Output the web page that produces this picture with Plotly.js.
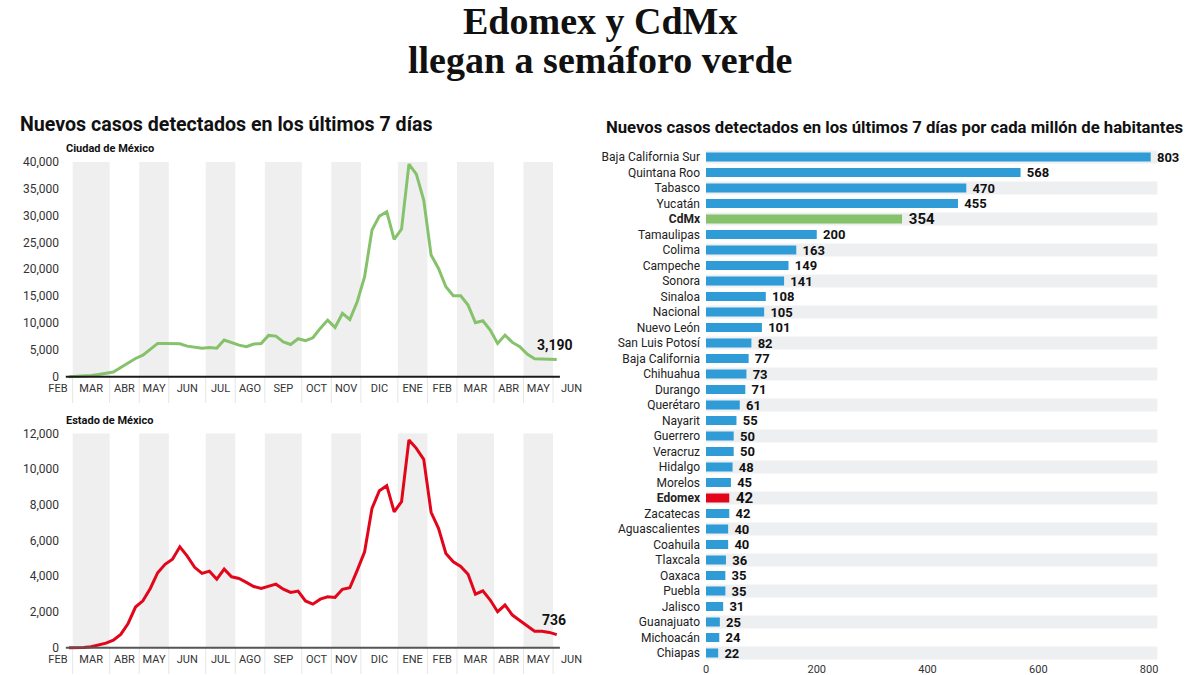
<!DOCTYPE html>
<html><head><meta charset="utf-8">
<script src="https://cdn.plot.ly/plotly-3.0.1.min.js"></script>
<style>html,body{margin:0;padding:0;background:#fff}#chart{width:1200px;height:675px}</style>
</head><body><div id="chart"></div>
<script>
// ---------- DATA ----------
const firstWeek = '2020-02-25';           // first weekly point (Tuesday)
const cdmxCases = [0,50,120,250,430,620,870,1740,2600,3400,4030,5200,6200,6200,6140,6140,5700,5460,5330,5460,5330,6820,6320,5890,5580,6080,6200,7690,7560,6500,6000,7070,6700,7250,8990,10540,9180,11780,10660,13950,18600,27280,29880,30690,25540,27470,39560,37700,32860,22630,20150,16740,15070,15070,13330,10040,10420,8680,6200,7750,6390,5580,4220,3350,3300,3300,3190];
const edomexCases = [0,0,20,56,150,260,430,750,1360,2280,2630,3320,4200,4670,4950,5650,5130,4500,4160,4290,3840,4400,3970,3880,3660,3430,3320,3450,3560,3280,3100,3170,2620,2440,2720,2850,2820,3270,3360,4330,5370,7800,8790,9070,7610,8170,11630,11160,10540,7580,6680,5280,4810,4550,4110,3000,3190,2670,2020,2390,1830,1530,1210,930,930,860,736];
const monthLabels = ['ENE','FEB','MAR','ABR','MAY','JUN','JUL','AGO','SEP','OCT','NOV','DIC'];
const states = ['Baja California Sur','Quintana Roo','Tabasco','Yucatán','CdMx','Tamaulipas','Colima','Campeche','Sonora','Sinaloa','Nacional','Nuevo León','San Luis Potosí','Baja California','Chihuahua','Durango','Querétaro','Nayarit','Guerrero','Veracruz','Hidalgo','Morelos','Edomex','Zacatecas','Aguascalientes','Coahuila','Tlaxcala','Oaxaca','Puebla','Jalisco','Guanajuato','Michoacán','Chiapas'];
const casesPerMillion = [803,568,470,455,354,200,163,149,141,108,105,101,82,77,73,71,61,55,50,50,48,45,42,42,40,40,36,35,35,31,25,24,22];

// ---------- HELPERS ----------
const DAY = 86400000;
const fmt = ms => new Date(ms).toISOString().slice(0,19).replace('T',' ');
const t0 = Date.parse(firstWeek + 'T00:00:00Z');
const weekDates = cdmxCases.map((_, i) => fmt(t0 + i*7*DAY));

// calendar of weekly (Tuesday) slots grouped by month, Feb 2020 – Jun 2021
const calStart = Date.UTC(2020,1,4), calEnd = Date.UTC(2021,5,29);
const groups = [];
for (let t = calStart; t <= calEnd; t += 7*DAY) {
  const d = new Date(t), key = d.getUTCFullYear()*12 + d.getUTCMonth();
  if (!groups.length || groups[groups.length-1].key !== key) groups.push({key, m: d.getUTCMonth(), first: t, last: t});
  else groups[groups.length-1].last = t;
}
const tickVals = groups.map(g => fmt((g.first + g.last)/2));
const tickText = groups.map(g => monthLabels[g.m]);

// pixel geometry helpers (page is 1200x675, margins 0)
const W = 1200, H = 675;
const px = x => x / W, py = y => 1 - y / H;
const msPerPx = 7*DAY / 7.39;
const xRange = [fmt(t0 - (69-45)*msPerPx), fmt(t0 + (580-69)*msPerPx)];

const FONT = "Roboto, 'Open Sans', sans-serif";
const GREEN = '#86c26b', RED = '#e3061b', BLUE = '#2f9bd7', BAND = '#efefef';

const shapes = [];
function monthBands(xref, yref, top, axisPaperY, axisColor) {
  groups.forEach((g, i) => {
    const x0 = fmt(g.first - 3.5*DAY), x1 = fmt(g.last + 3.5*DAY);
    if (i % 2 === 1 && i < groups.length - 1) {
      shapes.push({type:'rect', xref, yref, x0, x1, y0:0, y1:top, fillcolor:BAND, line:{width:0}, layer:'below'});
    }
    if (i > 0) {
      shapes.push({type:'line', xref, yref:'paper', x0, x1:x0, y0:axisPaperY, y1:axisPaperY - 26/H, line:{color:'#e6e6e6', width:1}, layer:'below'});
    }
  });
  shapes.push({type:'line', xref, yref, x0: fmt(t0 - 3*DAY), x1: fmt(t0 + (cdmxCases.length-1)*7*DAY + 3*DAY), y0:0, y1:0, line:{color:axisColor, width:2}});
}
monthBands('x', 'y', 40000, py(377), '#1a1a1a');
monthBands('x2', 'y2', 12000, py(648), '#555');

// bar-row background bands
states.forEach((s, i) => {
  if (i % 2 === 0) shapes.push({type:'rect', xref:'x3', yref:'y3', x0:0, x1:815, y0:i-0.42, y1:i+0.42, fillcolor:'#eeeff1', line:{width:0}, layer:'below'});
});

const isKey = s => s === 'CdMx' || s === 'Edomex';
const barColors = states.map(s => s === 'CdMx' ? GREEN : s === 'Edomex' ? RED : BLUE);
const catText = states.map(s => isKey(s) ? '<b>' + s + '</b>' : s);

const traces = [
  {type:'scatter', mode:'lines', x: weekDates, y: cdmxCases, xaxis:'x', yaxis:'y', line:{color:GREEN, width:3}, hoverinfo:'skip'},
  {type:'scatter', mode:'lines', x: weekDates, y: edomexCases, xaxis:'x2', yaxis:'y2', line:{color:RED, width:3}, hoverinfo:'skip'},
  {type:'bar', orientation:'h', y: states, x: casesPerMillion, xaxis:'x3', yaxis:'y3',
   marker:{color: barColors}, width:0.58,
   text: casesPerMillion.map(v => '\u00a0<b>' + v + '</b>'), textposition:'outside', cliponaxis:false, constraintext:'none',
   textfont:{family:FONT, size: states.map(s => isKey(s) ? 15 : 13), color:'#111'}, hoverinfo:'skip'}
];

const xLineAxis = (anchor) => ({
  type:'date', domain:[px(45), px(580)], range:xRange, anchor,
  tickvals: tickVals, ticktext: tickText, ticks:'', showgrid:false, zeroline:false, showline:false,
  tickfont:{family:FONT, size:11, color:'#333'}, tickangle:0
});

const lastIdx = cdmxCases.length - 1;
const layout = {
  width: W, height: H, margin:{l:0, r:0, t:0, b:0}, paper_bgcolor:'#fff', plot_bgcolor:'rgba(0,0,0,0)',
  showlegend:false, font:{family:FONT, color:'#222'},
  xaxis: xLineAxis('y'),
  yaxis: {domain:[py(380), py(161.7)], range:[-600, 40000], anchor:'free', position:px(59),
          tickvals:[0,5000,10000,15000,20000,25000,30000,35000,40000], tickformat:',d', ticks:'',
          showgrid:false, zeroline:false, showline:false, tickfont:{family:FONT, size:12, color:'#333'}},
  xaxis2: xLineAxis('y2'),
  yaxis2: {domain:[py(651), py(433.3)], range:[-180, 12000], anchor:'free', position:px(59),
          tickvals:[0,2000,4000,6000,8000,10000,12000], tickformat:',d', ticks:'',
          showgrid:false, zeroline:false, showline:false, tickfont:{family:FONT, size:12, color:'#333'}},
  xaxis3: {domain:[px(706), px(706 + 830*0.5538)], range:[0, 830], anchor:'y3',
           tickvals:[0,200,400,600,800], ticks:'', showgrid:false, zeroline:false, showline:false,
           tickfont:{family:FONT, size:11, color:'#333'}},
  yaxis3: {domain:[py(660.75), py(149.25)], range:[states.length - 0.5, -0.5], anchor:'x3', type:'category',
           tickvals: states, ticktext: catText, ticks:'', ticklabelstandoff:5, showgrid:false, zeroline:false, showline:false,
           tickfont:{family:FONT, size:12, color:'#222'}},
  shapes,
  annotations: [
    {xref:'paper', yref:'paper', x:0.5, y:py(21), xanchor:'center', yanchor:'middle', showarrow:false,
     text:'<b>Edomex y CdMx</b>', font:{family:"'Liberation Serif', 'DejaVu Serif', serif", size:38, color:'#111'}},
    {xref:'paper', yref:'paper', x:0.5, y:py(60), xanchor:'center', yanchor:'middle', showarrow:false,
     text:'<b>llegan a semáforo verde</b>', font:{family:"'Liberation Serif', 'DejaVu Serif', serif", size:38, color:'#111'}},
    {xref:'paper', yref:'paper', x:px(18), y:py(125), xanchor:'left', yanchor:'middle', showarrow:false,
     text:'<b>Nuevos casos detectados en los últimos 7 días</b>', font:{family:FONT, size:19.6, color:'#111'}},
    {xref:'paper', yref:'paper', x:px(894), y:py(127), xanchor:'center', yanchor:'middle', showarrow:false,
     text:'<b>Nuevos casos detectados en los últimos 7 días por cada millón de habitantes</b>', font:{family:FONT, size:16.7, color:'#111'}},
    {xref:'paper', yref:'paper', x:px(64), y:py(149), xanchor:'left', yanchor:'middle', showarrow:false,
     text:'<b>Ciudad de México</b>', font:{family:FONT, size:11, color:'#111'}},
    {xref:'paper', yref:'paper', x:px(64), y:py(421), xanchor:'left', yanchor:'middle', showarrow:false,
     text:'<b>Estado de México</b>', font:{family:FONT, size:11, color:'#111'}},
    {xref:'x', yref:'y', x: weekDates[lastIdx], y: cdmxCases[lastIdx], showarrow:false, yshift:15, xshift:-2,
     text:'<b>' + cdmxCases[lastIdx].toLocaleString('en-US') + '</b>', font:{family:FONT, size:14, color:'#111'}},
    {xref:'x2', yref:'y2', x: weekDates[lastIdx], y: edomexCases[lastIdx], showarrow:false, yshift:15, xshift:-3,
     text:'<b>' + edomexCases[lastIdx].toLocaleString('en-US') + '</b>', font:{family:FONT, size:14, color:'#111'}}
  ]
};

Plotly.newPlot('chart', traces, layout, {staticPlot:true, displayModeBar:false});
</script>
</body></html>
